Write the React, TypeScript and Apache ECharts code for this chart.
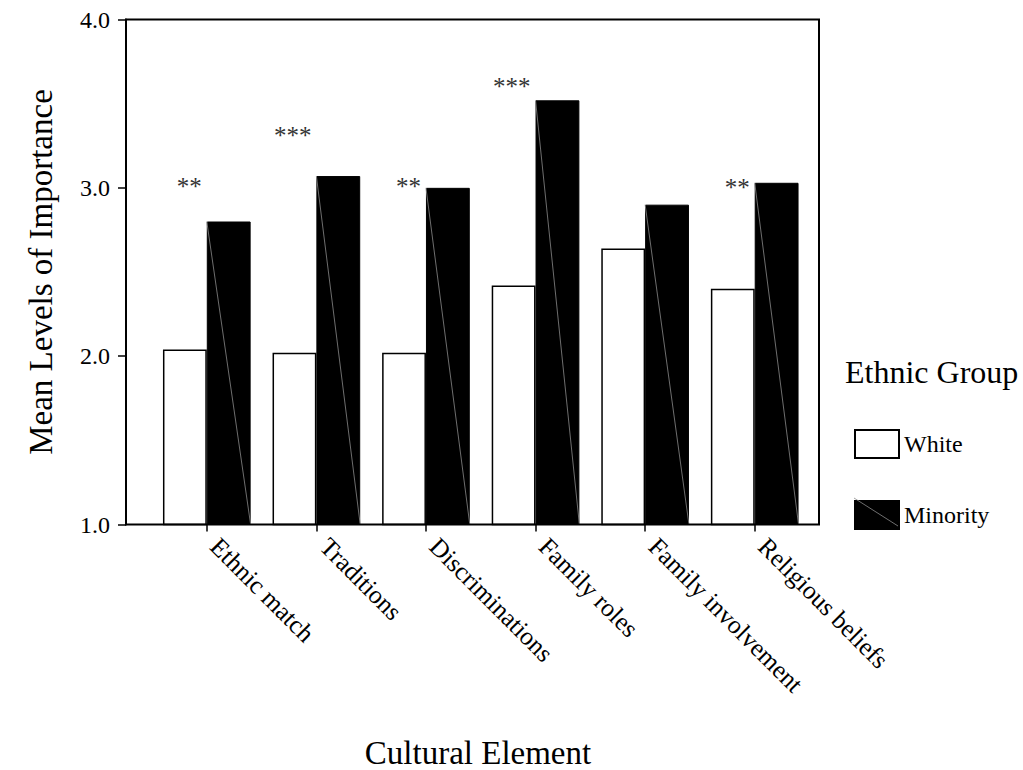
import React, { useEffect, useRef } from "react";
import * as echarts from "echarts";

const categories = [
  "Ethnic match",
  "Traditions",
  "Discriminations",
  "Family roles",
  "Family involvement",
  "Religious beliefs",
];
const whiteValues = [2.04, 2.02, 2.02, 2.42, 2.64, 2.4];
const minorityValues = [2.8, 3.07, 3.0, 3.52, 2.9, 3.03];
const starLabels = ["**", "***", "**", "***", "", "**"];
const starLevels: (number | null)[] = [3.03, 3.33, 3.03, 3.62, null, 3.02];
const yMin = 1;
const yMax = 4;
const yInterval = 1;

const FONT = "'Liberation Serif', 'Times New Roman', serif";

export default function App() {
  const ref = useRef<HTMLDivElement>(null);
  useEffect(() => {
    if (!ref.current) return;
    const chart = echarts.init(ref.current, undefined, { renderer: "svg" });

    const diagData = minorityValues.map((v, i) => [i, v]);
    const starData = starLevels
      .map((v, i) => (v == null ? null : [i, v]))
      .filter((d) => d !== null);

    const option: any = {
      animation: false,
      backgroundColor: "#fff",
      textStyle: { fontFamily: FONT },
      grid: { left: 152, right: 213.5, top: 19.5, bottom: 245.5 },
      legend: {
        data: ["White", "Minority"],
        orient: "vertical",
        left: 854,
        top: 429,
        padding: 0,
        icon: "rect",
        itemWidth: 44,
        itemHeight: 28,
        itemGap: 41,
        textStyle: { fontSize: 24, color: "#000", fontFamily: FONT },
      },
      xAxis: {
        type: "category",
        data: categories,
        axisLine: { show: false },
        axisTick: {
          show: true,
          alignWithLabel: true,
          length: 7,
          lineStyle: { color: "#000", width: 1.5 },
        },
        axisLabel: {
          rotate: -45,
          margin: 10,
          padding: [0, 0, 0, 11],
          interval: 0,
          fontSize: 25.5,
          color: "#000",
          fontFamily: FONT,
        },
        splitLine: { show: false },
      },
      yAxis: {
        type: "value",
        min: yMin,
        max: yMax,
        interval: yInterval,
        offset: 26,
        axisLine: { show: true, lineStyle: { color: "#000", width: 2 } },
        axisTick: { show: true, length: 8, lineStyle: { color: "#000", width: 1.5 } },
        axisLabel: {
          margin: 16,
          fontSize: 24,
          color: "#000",
          fontFamily: FONT,
          formatter: (v: number) => v.toFixed(1),
        },
        splitLine: { show: false },
      },
      series: [
        {
          name: "White",
          type: "bar",
          data: whiteValues,
          barGap: "0%",
          barCategoryGap: "20%",
          itemStyle: { color: "#fff", borderColor: "#000", borderWidth: 1.5 },
        },
        {
          name: "Minority",
          type: "bar",
          data: minorityValues,
          barGap: "0%",
          barCategoryGap: "20%",
          itemStyle: { color: "#000", borderColor: "#000", borderWidth: 1 },
        },
        {
          name: "diag",
          type: "custom",
          data: diagData,
          z: 5,
          renderItem: (params: any, api: any) => {
            const idx = api.value(0);
            const top = api.coord([idx, api.value(1)]);
            const bottom = api.coord([idx, yMin]);
            const bw = api.size([1, 0])[0] * 0.4;
            return {
              type: "line",
              shape: { x1: top[0], y1: top[1], x2: top[0] + bw, y2: bottom[1] },
              style: { stroke: "#8a8a8a", lineWidth: 0.8 },
            };
          },
        },
        {
          name: "stars",
          type: "custom",
          data: starData,
          z: 6,
          renderItem: (params: any, api: any) => {
            const idx = api.value(0);
            const p = api.coord([idx, api.value(1)]);
            return {
              type: "text",
              x: p[0] - 5,
              y: p[1] + 3.5,
              style: {
                text: starLabels[idx],
                fontSize: 25,
                fontFamily: FONT,
                fill: "#333",
                align: "right",
                verticalAlign: "middle",
              },
            };
          },
        },
      ],
      graphic: [
        {
          type: "rect",
          shape: { x: 126, y: 19.5, width: 693, height: 505 },
          style: { fill: "none", stroke: "#000", lineWidth: 2 },
          z: 100,
        },
        {
          type: "line",
          shape: { x1: 854, y1: 498, x2: 898, y2: 526 },
          style: { stroke: "#8a8a8a", lineWidth: 0.8 },
          z: 100,
        },
        {
          type: "text",
          x: 40.5,
          y: 272,
          rotation: Math.PI / 2,
          style: {
            text: "Mean Levels of Importance",
            fontSize: 33,
            fontFamily: FONT,
            fill: "#000",
            align: "center",
            verticalAlign: "middle",
          },
        },
        {
          type: "text",
          x: 478,
          y: 753,
          style: {
            text: "Cultural Element",
            fontSize: 33,
            lineHeight: 26,
            fontFamily: FONT,
            fill: "#000",
            align: "center",
            verticalAlign: "middle",
          },
        },
        {
          type: "text",
          x: 845,
          y: 372,
          style: {
            text: "Ethnic Group",
            fontSize: 32,
            fontFamily: FONT,
            fill: "#000",
            align: "left",
            verticalAlign: "middle",
          },
        },
      ],
    };
    chart.setOption(option);
    return () => chart.dispose();
  }, []);
  return (
    <div
      ref={ref}
      style={{ position: "fixed", left: 0, top: 0, width: 1023, height: 770 }}
    />
  );
}
